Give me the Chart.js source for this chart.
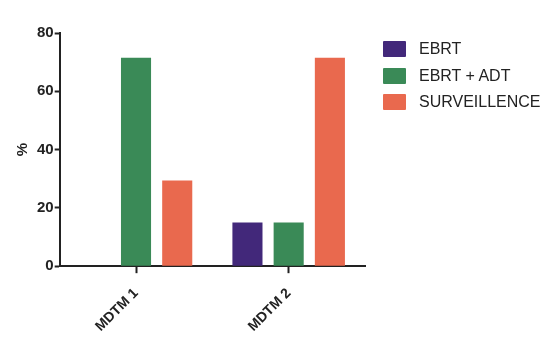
<!DOCTYPE html>
<html>
<head>
<meta charset="utf-8">
<script src="https://cdn.jsdelivr.net/npm/chart.js@4.4.1/dist/chart.umd.min.js"></script>
<style>
html,body{margin:0;padding:0;background:#fff;}
#wrap{width:556px;height:352px;position:relative;}
#legend{position:absolute;left:383px;top:36px;font-family:'Liberation Sans',Arial,sans-serif;font-size:16px;color:#222;}
#legend .item{display:flex;align-items:center;height:26.5px;}
#legend .box{width:23px;height:16px;margin-right:13px;border-radius:1px;}
</style>
</head>
<body>
<div id="wrap"><canvas id="c" width="556" height="352"></canvas><div id="legend"></div></div>
<script>
const categories = ["MDTM 1", "MDTM 2"];
const seriesNames = ["EBRT", "EBRT + ADT", "SURVEILLENCE"];
const ebrt = [0, 15];
const ebrtAdt = [71.5, 15];
const surveillance = [29.4, 71.5];
const yTicks = [0, 20, 40, 60, 80];
const colors = ['#42287a', '#3a8a57', '#e9694e'];

const FONT = "'Liberation Sans', Arial, sans-serif";
const ctx = document.getElementById('c');
const chart = new Chart(ctx, {
  type: 'bar',
  data: {
    labels: categories,
    datasets: [
      { label: seriesNames[0], data: ebrt, backgroundColor: colors[0] },
      { label: seriesNames[1], data: ebrtAdt, backgroundColor: colors[1] },
      { label: seriesNames[2], data: surveillance, backgroundColor: colors[2] }
    ]
  },
  options: {
    responsive: false,
    animation: false,
    devicePixelRatio: 1,
    datasets: { bar: { categoryPercentage: 0.81, barPercentage: 0.73 } },
    layout: { padding: { top: 33, right: 191, left: 14, bottom: 5 } },
    plugins: {
      tooltip: { enabled: false },
      legend: { display: false }
    },
    scales: {
      x: {
        offset: true,
        border: { display: true, color: '#222', width: 2 },
        grid: { display: true, drawOnChartArea: false, drawTicks: true, offset: false, tickLength: 7, tickColor: '#222', tickWidth: 2 },
        ticks: {
          minRotation: 45, maxRotation: 45, color: '#222', padding: 12,
          font: { family: FONT, size: 14, weight: 'bold' }
        }
      },
      y: {
        min: 0, max: 80,
        afterBuildTicks: (axis) => { axis.ticks = yTicks.map(v => ({ value: v })); },
        border: { display: true, color: '#222', width: 2 },
        grid: { display: true, drawOnChartArea: false, drawTicks: true, tickLength: 5, tickColor: '#222', tickWidth: 2 },
        title: { display: true, text: '%', color: '#222', padding: { top: 0, bottom: 4 },
          font: { family: FONT, size: 15, weight: 'bold' } },
        ticks: { color: '#222', padding: 1,
          font: { family: FONT, size: 15, weight: 'bold' } }
      }
    }
  }
});

const legend = document.getElementById('legend');
chart.data.datasets.forEach((ds) => {
  const item = document.createElement('div');
  item.className = 'item';
  const box = document.createElement('div');
  box.className = 'box';
  box.style.background = ds.backgroundColor;
  const txt = document.createElement('span');
  txt.textContent = ds.label;
  item.appendChild(box);
  item.appendChild(txt);
  legend.appendChild(item);
});
</script>
</body>
</html>
